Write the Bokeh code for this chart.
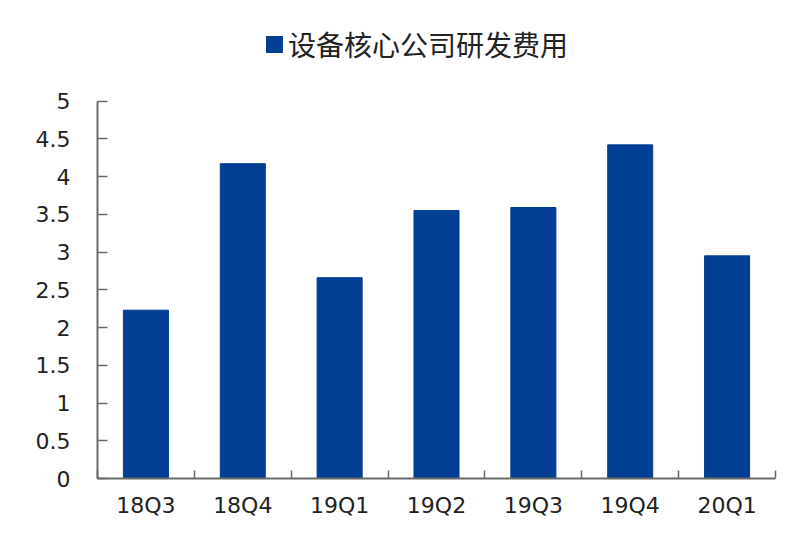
from bokeh.plotting import figure
from bokeh.models import ColumnDataSource, FixedTicker, Legend, LegendItem, Range1d
from bokeh.embed import file_html
from bokeh.resources import INLINE

categories = ["18Q3", "18Q4", "19Q1", "19Q2", "19Q3", "19Q4", "20Q1"]
values = [2.23, 4.17, 2.66, 3.55, 3.59, 4.42, 2.95]
series_name = "设备核心公司研发费用"
y_ticks = [0, 0.5, 1, 1.5, 2, 2.5, 3, 3.5, 4, 4.5, 5]

BAR = "#023e94"
AX = "#6b6b6b"

xpos = [i + 0.5 for i in range(len(categories))]
src = ColumnDataSource(dict(x=xpos, top=values, cat=categories))

# frame extends above 5 to host the legend; the y axis line is bounded to 0..5
p = figure(width=784, height=520, output_backend="svg", toolbar_location=None,
           x_range=Range1d(0, len(categories)), y_range=Range1d(0, 6.2))
p.min_border_left = 97
p.min_border_right = 9
p.min_border_top = 10
p.min_border_bottom = 42
p.outline_line_color = None
p.background_fill_color = "white"
p.border_fill_color = "white"
p.xgrid.visible = False
p.ygrid.visible = False

r = p.vbar(x="x", top="top", width=0.465, bottom=0, source=src,
           fill_color=BAR, line_color=BAR)

# x axis
xa = p.xaxis[0]
xa.ticker = FixedTicker(ticks=xpos, minor_ticks=list(range(len(categories) + 1)))
xa.major_label_overrides = {x: c for x, c in zip(xpos, categories)}
xa.major_tick_line_color = None
xa.major_tick_in = 0
xa.major_tick_out = 0
xa.minor_tick_in = 8
xa.minor_tick_out = 0
xa.minor_tick_line_color = AX
xa.minor_tick_line_width = 1.5
xa.axis_line_color = AX
xa.axis_line_width = 2
xa.major_label_text_font = "DejaVu Sans"
xa.major_label_text_font_size = "22px"
xa.major_label_text_color = "#222222"
xa.major_label_standoff = 14

# y axis
ya = p.yaxis[0]
ya.bounds = (0, 5)
ya.ticker = FixedTicker(ticks=y_ticks)
ya.major_label_overrides = {t: ("%g" % t) for t in y_ticks}
ya.major_tick_in = 10
ya.major_tick_out = 0
ya.minor_tick_line_color = None
ya.major_tick_line_color = AX
ya.major_tick_line_width = 1.5
ya.axis_line_color = AX
ya.axis_line_width = 2
ya.major_label_text_font = "DejaVu Sans"
ya.major_label_text_font_size = "22px"
ya.major_label_text_color = "#222222"
ya.major_label_standoff = 27

legend = Legend(items=[LegendItem(label=series_name, renderers=[r])],
                location=(167, 414), orientation="horizontal")
legend.label_text_font = "Noto Sans CJK SC"
legend.label_text_font_size = "28px"
legend.label_text_color = "#222222"
legend.glyph_width = 20
legend.glyph_height = 20
legend.label_standoff = 4
legend.border_line_color = None
legend.background_fill_alpha = 0
legend.padding = 0
legend.margin = 0
p.add_layout(legend)

open("out.html", "w").write(file_html(p, INLINE))
